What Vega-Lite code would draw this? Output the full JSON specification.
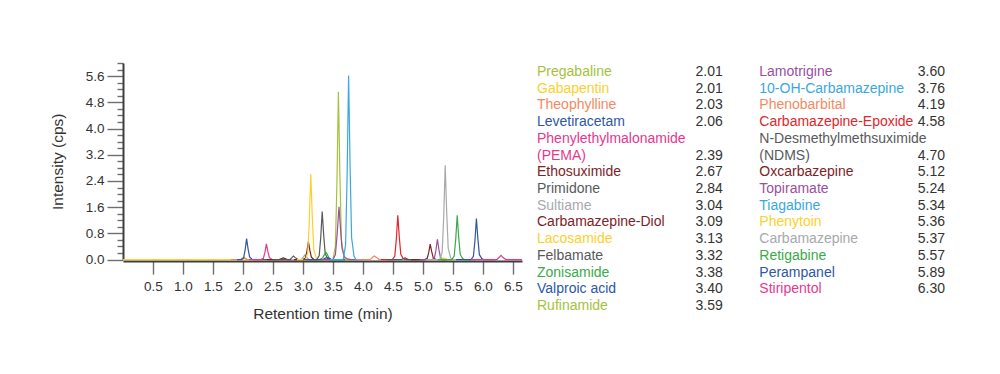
{
  "$schema": "https://vega.github.io/schema/vega-lite/v6.json",
  "background": "white",
  "padding": {"left": 50, "top": 62, "right": 5, "bottom": 5},
  "config": {"view": {"stroke": null}, "font": "Liberation Sans"},
  "spacing": 12,
  "datasets": {
    "tr": [
      {"c":"Gabapentin","t":0,"v":0},{"c":"Gabapentin","t":1.97,"v":0},{"c":"Gabapentin","t":2.01,"v":0.05},{"c":"Gabapentin","t":2.05,"v":0},{"c":"Gabapentin","t":2.5,"v":0},
      {"c":"Pregabaline","t":1.8,"v":0},{"c":"Pregabaline","t":1.96,"v":0},{"c":"Pregabaline","t":1.99,"v":0.04},{"c":"Pregabaline","t":2.01,"v":0.08},{"c":"Pregabaline","t":2.035,"v":0.04},{"c":"Pregabaline","t":2.07,"v":0},{"c":"Pregabaline","t":2.6,"v":0},
      {"c":"Theophylline","t":1.8,"v":0},{"c":"Theophylline","t":1.99,"v":0},{"c":"Theophylline","t":2.03,"v":0.05},{"c":"Theophylline","t":2.07,"v":0},{"c":"Theophylline","t":2.4,"v":0},
      {"c":"Levetiracetam","t":1.9,"v":0},{"c":"Levetiracetam","t":1.97,"v":0},{"c":"Levetiracetam","t":2.01,"v":0.05},{"c":"Levetiracetam","t":2.035,"v":0.29},{"c":"Levetiracetam","t":2.06,"v":0.64},{"c":"Levetiracetam","t":2.085,"v":0.32},{"c":"Levetiracetam","t":2.11,"v":0.08},{"c":"Levetiracetam","t":2.15,"v":0.01},{"c":"Levetiracetam","t":2.18,"v":0},{"c":"Levetiracetam","t":2.5,"v":0},
      {"c":"PEMA","t":2.1,"v":0},{"c":"PEMA","t":2.3,"v":0},{"c":"PEMA","t":2.34,"v":0.04},{"c":"PEMA","t":2.365,"v":0.22},{"c":"PEMA","t":2.39,"v":0.48},{"c":"PEMA","t":2.415,"v":0.24},{"c":"PEMA","t":2.44,"v":0.06},{"c":"PEMA","t":2.48,"v":0.01},{"c":"PEMA","t":2.51,"v":0},{"c":"PEMA","t":2.9,"v":0},
      {"c":"Ethosuximide","t":2.4,"v":0},{"c":"Ethosuximide","t":2.6,"v":0},{"c":"Ethosuximide","t":2.67,"v":0.05},{"c":"Ethosuximide","t":2.74,"v":0},{"c":"Ethosuximide","t":3.0,"v":0},
      {"c":"Primidone","t":2.5,"v":0},{"c":"Primidone","t":2.78,"v":0},{"c":"Primidone","t":2.815,"v":0.06},{"c":"Primidone","t":2.84,"v":0.11},{"c":"Primidone","t":2.87,"v":0.06},{"c":"Primidone","t":2.92,"v":0},{"c":"Primidone","t":3.2,"v":0},
      {"c":"Sultiame","t":2.8,"v":0},{"c":"Sultiame","t":2.97,"v":0},{"c":"Sultiame","t":3.0,"v":0.07},{"c":"Sultiame","t":3.03,"v":0.14},{"c":"Sultiame","t":3.06,"v":0.07},{"c":"Sultiame","t":3.1,"v":0},{"c":"Sultiame","t":3.4,"v":0},
      {"c":"Carbamazepine-Diol","t":2.85,"v":0},{"c":"Carbamazepine-Diol","t":3.0,"v":0},{"c":"Carbamazepine-Diol","t":3.04,"v":0.05},{"c":"Carbamazepine-Diol","t":3.065,"v":0.25},{"c":"Carbamazepine-Diol","t":3.09,"v":0.55},{"c":"Carbamazepine-Diol","t":3.115,"v":0.28},{"c":"Carbamazepine-Diol","t":3.14,"v":0.07},{"c":"Carbamazepine-Diol","t":3.18,"v":0.01},{"c":"Carbamazepine-Diol","t":3.21,"v":0},{"c":"Carbamazepine-Diol","t":3.5,"v":0},
      {"c":"Lacosamide","t":2.9,"v":0},{"c":"Lacosamide","t":3.04,"v":0},{"c":"Lacosamide","t":3.08,"v":0.21},{"c":"Lacosamide","t":3.105,"v":1.17},{"c":"Lacosamide","t":3.13,"v":2.61},{"c":"Lacosamide","t":3.155,"v":1.3},{"c":"Lacosamide","t":3.18,"v":0.31},{"c":"Lacosamide","t":3.22,"v":0.05},{"c":"Lacosamide","t":3.25,"v":0},{"c":"Lacosamide","t":3.5,"v":0},
      {"c":"Felbamate","t":3.0,"v":0},{"c":"Felbamate","t":3.23,"v":0},{"c":"Felbamate","t":3.27,"v":0.12},{"c":"Felbamate","t":3.295,"v":0.66},{"c":"Felbamate","t":3.32,"v":1.47},{"c":"Felbamate","t":3.345,"v":0.74},{"c":"Felbamate","t":3.37,"v":0.18},{"c":"Felbamate","t":3.41,"v":0.03},{"c":"Felbamate","t":3.44,"v":0},{"c":"Felbamate","t":3.7,"v":0},
      {"c":"Zonisamide","t":3.1,"v":0},{"c":"Zonisamide","t":3.28,"v":0},{"c":"Zonisamide","t":3.33,"v":0.06},{"c":"Zonisamide","t":3.355,"v":0.15},{"c":"Zonisamide","t":3.38,"v":0.23},{"c":"Zonisamide","t":3.405,"v":0.16},{"c":"Zonisamide","t":3.43,"v":0.06},{"c":"Zonisamide","t":3.47,"v":0.01},{"c":"Zonisamide","t":3.5,"v":0},{"c":"Zonisamide","t":3.8,"v":0},
      {"c":"Valproic acid","t":3.1,"v":0},{"c":"Valproic acid","t":3.33,"v":0},{"c":"Valproic acid","t":3.38,"v":0.05},{"c":"Valproic acid","t":3.42,"v":0.05},{"c":"Valproic acid","t":3.47,"v":0},{"c":"Valproic acid","t":3.7,"v":0},
      {"c":"Rufinamide","t":3.3,"v":0},{"c":"Rufinamide","t":3.5,"v":0},{"c":"Rufinamide","t":3.54,"v":0.41},{"c":"Rufinamide","t":3.565,"v":2.3},{"c":"Rufinamide","t":3.59,"v":5.12},{"c":"Rufinamide","t":3.615,"v":2.56},{"c":"Rufinamide","t":3.64,"v":0.61},{"c":"Rufinamide","t":3.68,"v":0.1},{"c":"Rufinamide","t":3.71,"v":0},{"c":"Rufinamide","t":3.9,"v":0},
      {"c":"Lamotrigine","t":3.3,"v":0},{"c":"Lamotrigine","t":3.5,"v":0},{"c":"Lamotrigine","t":3.54,"v":0.15},{"c":"Lamotrigine","t":3.57,"v":0.8},{"c":"Lamotrigine","t":3.6,"v":1.61},{"c":"Lamotrigine","t":3.625,"v":0.95},{"c":"Lamotrigine","t":3.65,"v":0.35},{"c":"Lamotrigine","t":3.69,"v":0.08},{"c":"Lamotrigine","t":3.74,"v":0.02},{"c":"Lamotrigine","t":3.8,"v":0},{"c":"Lamotrigine","t":4.0,"v":0},
      {"c":"10-OH-Carbamazepine","t":3.45,"v":0},{"c":"10-OH-Carbamazepine","t":3.67,"v":0},{"c":"10-OH-Carbamazepine","t":3.71,"v":0.45},{"c":"10-OH-Carbamazepine","t":3.735,"v":2.53},{"c":"10-OH-Carbamazepine","t":3.76,"v":5.62},{"c":"10-OH-Carbamazepine","t":3.785,"v":2.81},{"c":"10-OH-Carbamazepine","t":3.81,"v":0.67},{"c":"10-OH-Carbamazepine","t":3.85,"v":0.11},{"c":"10-OH-Carbamazepine","t":3.88,"v":0},{"c":"10-OH-Carbamazepine","t":4.1,"v":0},
      {"c":"Phenobarbital","t":3.9,"v":0},{"c":"Phenobarbital","t":4.12,"v":0},{"c":"Phenobarbital","t":4.16,"v":0.07},{"c":"Phenobarbital","t":4.19,"v":0.11},{"c":"Phenobarbital","t":4.22,"v":0.07},{"c":"Phenobarbital","t":4.27,"v":0},{"c":"Phenobarbital","t":4.5,"v":0},
      {"c":"Carbamazepine-Epoxide","t":4.3,"v":0},{"c":"Carbamazepine-Epoxide","t":4.49,"v":0},{"c":"Carbamazepine-Epoxide","t":4.53,"v":0.11},{"c":"Carbamazepine-Epoxide","t":4.555,"v":0.61},{"c":"Carbamazepine-Epoxide","t":4.58,"v":1.35},{"c":"Carbamazepine-Epoxide","t":4.605,"v":0.68},{"c":"Carbamazepine-Epoxide","t":4.63,"v":0.16},{"c":"Carbamazepine-Epoxide","t":4.67,"v":0.03},{"c":"Carbamazepine-Epoxide","t":4.7,"v":0},{"c":"Carbamazepine-Epoxide","t":4.9,"v":0},
      {"c":"NDMS","t":4.4,"v":0},{"c":"NDMS","t":4.64,"v":0},{"c":"NDMS","t":4.7,"v":0.05},{"c":"NDMS","t":4.76,"v":0},{"c":"NDMS","t":5.0,"v":0},
      {"c":"Oxcarbazepine","t":4.8,"v":0},{"c":"Oxcarbazepine","t":5.03,"v":0},{"c":"Oxcarbazepine","t":5.07,"v":0.04},{"c":"Oxcarbazepine","t":5.095,"v":0.21},{"c":"Oxcarbazepine","t":5.12,"v":0.47},{"c":"Oxcarbazepine","t":5.145,"v":0.24},{"c":"Oxcarbazepine","t":5.17,"v":0.06},{"c":"Oxcarbazepine","t":5.21,"v":0.01},{"c":"Oxcarbazepine","t":5.24,"v":0},{"c":"Oxcarbazepine","t":5.4,"v":0},
      {"c":"Topiramate","t":4.95,"v":0},{"c":"Topiramate","t":5.15,"v":0},{"c":"Topiramate","t":5.19,"v":0.05},{"c":"Topiramate","t":5.215,"v":0.28},{"c":"Topiramate","t":5.24,"v":0.62},{"c":"Topiramate","t":5.265,"v":0.31},{"c":"Topiramate","t":5.29,"v":0.07},{"c":"Topiramate","t":5.33,"v":0.01},{"c":"Topiramate","t":5.36,"v":0},{"c":"Topiramate","t":5.5,"v":0},
      {"c":"Tiagabine","t":5.05,"v":0},{"c":"Tiagabine","t":5.29,"v":0},{"c":"Tiagabine","t":5.34,"v":0.03},{"c":"Tiagabine","t":5.39,"v":0},{"c":"Tiagabine","t":5.6,"v":0},
      {"c":"Phenytoin","t":5.05,"v":0},{"c":"Phenytoin","t":5.3,"v":0},{"c":"Phenytoin","t":5.35,"v":0.05},{"c":"Phenytoin","t":5.41,"v":0},{"c":"Phenytoin","t":5.6,"v":0},
      {"c":"Carbamazepine","t":5.05,"v":0},{"c":"Carbamazepine","t":5.28,"v":0},{"c":"Carbamazepine","t":5.32,"v":0.23},{"c":"Carbamazepine","t":5.345,"v":1.3},{"c":"Carbamazepine","t":5.37,"v":2.88},{"c":"Carbamazepine","t":5.395,"v":1.44},{"c":"Carbamazepine","t":5.42,"v":0.35},{"c":"Carbamazepine","t":5.46,"v":0.06},{"c":"Carbamazepine","t":5.49,"v":0},{"c":"Carbamazepine","t":5.7,"v":0},
      {"c":"Retigabine","t":5.25,"v":0},{"c":"Retigabine","t":5.48,"v":0},{"c":"Retigabine","t":5.52,"v":0.11},{"c":"Retigabine","t":5.545,"v":0.61},{"c":"Retigabine","t":5.57,"v":1.35},{"c":"Retigabine","t":5.595,"v":0.68},{"c":"Retigabine","t":5.62,"v":0.16},{"c":"Retigabine","t":5.66,"v":0.03},{"c":"Retigabine","t":5.69,"v":0},{"c":"Retigabine","t":5.9,"v":0},
      {"c":"Perampanel","t":5.55,"v":0},{"c":"Perampanel","t":5.8,"v":0},{"c":"Perampanel","t":5.84,"v":0.1},{"c":"Perampanel","t":5.865,"v":0.56},{"c":"Perampanel","t":5.89,"v":1.25},{"c":"Perampanel","t":5.915,"v":0.63},{"c":"Perampanel","t":5.94,"v":0.15},{"c":"Perampanel","t":5.98,"v":0.03},{"c":"Perampanel","t":6.01,"v":0},{"c":"Perampanel","t":6.2,"v":0},
      {"c":"Stiripentol","t":5.8,"v":0},{"c":"Stiripentol","t":6.23,"v":0},{"c":"Stiripentol","t":6.27,"v":0.07},{"c":"Stiripentol","t":6.3,"v":0.13},{"c":"Stiripentol","t":6.33,"v":0.07},{"c":"Stiripentol","t":6.38,"v":0},{"c":"Stiripentol","t":6.65,"v":0}
    ],
    "lg": [
      {"c":"Pregabaline","label":"Pregabaline","rt":"2.01","col":1,"row":0},
      {"c":"Gabapentin","label":"Gabapentin","rt":"2.01","col":1,"row":1},
      {"c":"Theophylline","label":"Theophylline","rt":"2.03","col":1,"row":2},
      {"c":"Levetiracetam","label":"Levetiracetam","rt":"2.06","col":1,"row":3},
      {"c":"PEMA","label":"Phenylethylmalonamide","rt":"","col":1,"row":4},
      {"c":"PEMA","label":"(PEMA)","rt":"2.39","col":1,"row":5},
      {"c":"Ethosuximide","label":"Ethosuximide","rt":"2.67","col":1,"row":6},
      {"c":"Primidone","label":"Primidone","rt":"2.84","col":1,"row":7},
      {"c":"Sultiame","label":"Sultiame","rt":"3.04","col":1,"row":8},
      {"c":"Carbamazepine-Diol","label":"Carbamazepine-Diol","rt":"3.09","col":1,"row":9},
      {"c":"Lacosamide","label":"Lacosamide","rt":"3.13","col":1,"row":10},
      {"c":"Felbamate","label":"Felbamate","rt":"3.32","col":1,"row":11},
      {"c":"Zonisamide","label":"Zonisamide","rt":"3.38","col":1,"row":12},
      {"c":"Valproic acid","label":"Valproic acid","rt":"3.40","col":1,"row":13},
      {"c":"Rufinamide","label":"Rufinamide","rt":"3.59","col":1,"row":14},
      {"c":"Lamotrigine","label":"Lamotrigine","rt":"3.60","col":2,"row":0},
      {"c":"10-OH-Carbamazepine","label":"10-OH-Carbamazepine","rt":"3.76","col":2,"row":1},
      {"c":"Phenobarbital","label":"Phenobarbital","rt":"4.19","col":2,"row":2},
      {"c":"Carbamazepine-Epoxide","label":"Carbamazepine-Epoxide","rt":"4.58","col":2,"row":3},
      {"c":"NDMS","label":"N-Desmethylmethsuximide","rt":"","col":2,"row":4},
      {"c":"NDMS","label":"(NDMS)","rt":"4.70","col":2,"row":5},
      {"c":"Oxcarbazepine","label":"Oxcarbazepine","rt":"5.12","col":2,"row":6},
      {"c":"Topiramate","label":"Topiramate","rt":"5.24","col":2,"row":7},
      {"c":"Tiagabine","label":"Tiagabine","rt":"5.34","col":2,"row":8},
      {"c":"Phenytoin","label":"Phenytoin","rt":"5.36","col":2,"row":9},
      {"c":"Carbamazepine","label":"Carbamazepine","rt":"5.37","col":2,"row":10},
      {"c":"Retigabine","label":"Retigabine","rt":"5.57","col":2,"row":11},
      {"c":"Perampanel","label":"Perampanel","rt":"5.89","col":2,"row":12},
      {"c":"Stiripentol","label":"Stiripentol","rt":"6.30","col":2,"row":13}
    ]
  },
  "hconcat": [
    {
      "width": 399,
      "height": 196.6,
      "data": {"name": "tr"},
      "mark": {"type": "line", "strokeWidth": 1.2, "interpolate": "linear", "zindex": 2},
      "encoding": {
        "x": {
          "field": "t", "type": "quantitative",
          "scale": {"domain": [0, 6.65], "nice": false, "zero": false},
          "axis": {
            "title": "Retention time (min)",
            "values": [0.5,1.0,1.5,2.0,2.5,3.0,3.5,4.0,4.5,5.0,5.5,6.0,6.5],
            "format": ".1f",
            "grid": false,
            "offset": 1.5,
            "zindex": 0,
            "domainColor": "#3d3d3d", "domainWidth": 2,
            "tickColor": "#6d6e71", "tickWidth": 1.4, "tickSize": 13,
            "labelFont": "Liberation Sans", "labelFontSize": 13.5, "labelColor": "#333333", "labelPadding": 5,
            "titleFont": "Liberation Sans", "titleFontSize": 15.5, "titleFontWeight": "normal", "titleColor": "#333333", "titlePadding": 14
          }
        },
        "y": {
          "field": "v", "type": "quantitative",
          "scale": {"domain": [0, 6.0], "nice": false},
          "axis": {
            "title": "Intensity (cps)",
            "values": [0,0.2,0.4,0.6,0.8,1.0,1.2,1.4,1.6,1.8,2.0,2.2,2.4,2.6,2.8,3.0,3.2,3.4,3.6,3.8,4.0,4.2,4.4,4.6,4.8,5.0,5.2,5.4,5.6,5.8,6.0],
            "labelExpr": "abs(datum.value/0.8 - round(datum.value/0.8)) < 0.01 ? format(datum.value, '.1f') : ''",
            "grid": false,
            "zindex": 0,
            "domainColor": "#3d3d3d", "domainWidth": 2,
            "tickColor": "#6d6e71", "tickWidth": 1.4,
            "tickSize": {"condition": {"test": "abs(datum.value/0.8 - round(datum.value/0.8)) < 0.01", "value": 16}, "value": 6},
            "labelFont": "Liberation Sans", "labelFontSize": 13.5, "labelColor": "#333333", "labelPadding": 3,
            "titleFont": "Liberation Sans", "titleFontSize": 15.5, "titleFontWeight": "normal", "titleColor": "#333333", "titlePadding": 20
          }
        },
        "color": {
          "field": "c", "type": "nominal", "legend": null,
          "scale": {
            "domain": ["Pregabaline","Gabapentin","Theophylline","Levetiracetam","PEMA","Ethosuximide","Primidone","Sultiame","Carbamazepine-Diol","Lacosamide","Felbamate","Zonisamide","Valproic acid","Rufinamide","Lamotrigine","10-OH-Carbamazepine","Phenobarbital","Carbamazepine-Epoxide","NDMS","Oxcarbazepine","Topiramate","Tiagabine","Phenytoin","Carbamazepine","Retigabine","Perampanel","Stiripentol"],
            "range": ["#a5c23c","#fcd02e","#f4895f","#2e57a5","#e8378d","#7e2226","#58595b","#a7a9ac","#7e2226","#fcd02e","#58595b","#3aaa4a","#2e57a5","#a5c23c","#9a509d","#3aa8de","#f4895f","#e2262b","#58595b","#7e2226","#9a509d","#3aa8de","#fcd02e","#a7a9ac","#3aaa4a","#2e57a5","#e8378d"]
          }
        }
      }
    },
    {
      "width": 222.3,
      "height": 252,
      "data": {"name": "lg"},
      "encoding": {
        "x": {"field": "col", "type": "quantitative", "scale": {"domain": [1, 2]}, "axis": null},
        "y": {"field": "row", "type": "quantitative", "scale": {"domain": [14.54, -0.54], "nice": false, "zero": false}, "axis": null}
      },
      "layer": [
        {
          "mark": {"type": "text", "align": "left", "baseline": "middle", "font": "Liberation Sans", "fontSize": 14},
          "encoding": {
            "text": {"field": "label", "type": "nominal"},
            "color": {"field": "c", "type": "nominal", "legend": null}
          }
        },
        {
          "mark": {"type": "text", "align": "right", "baseline": "middle", "font": "Liberation Sans", "fontSize": 14, "dx": 185.7, "color": "#333333"},
          "encoding": {
            "text": {"field": "rt", "type": "nominal"}
          }
        }
      ]
    }
  ]
}
